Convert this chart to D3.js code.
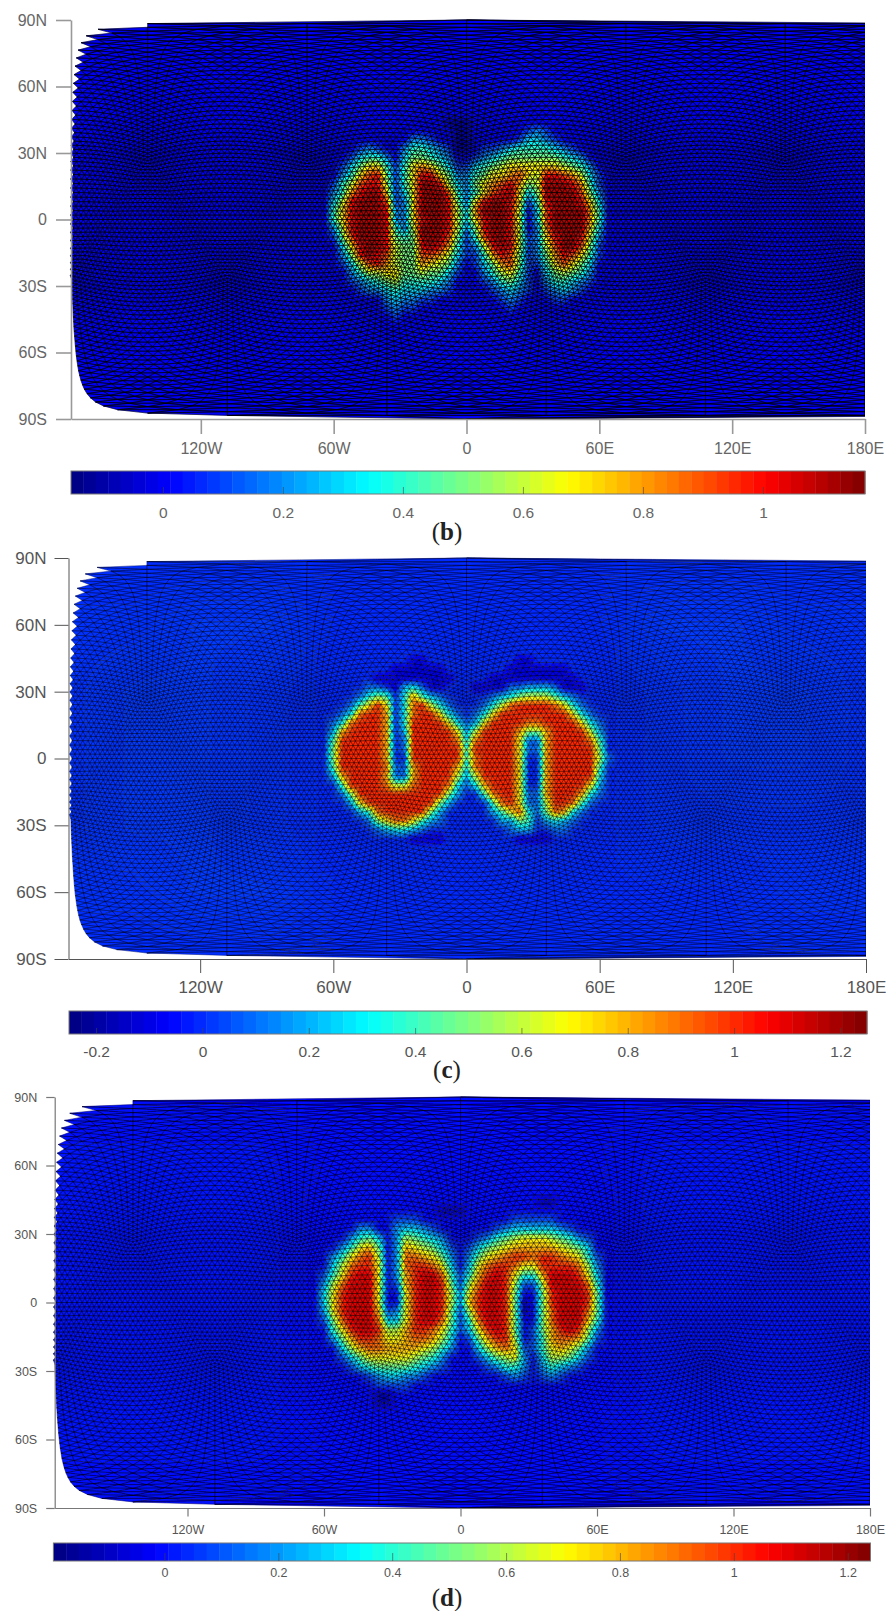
<!DOCTYPE html>
<html>
<head>
<meta charset="utf-8">
<script src="https://cdn.jsdelivr.net/npm/d3@7"></script>
<style>
body { margin: 0; background: #fff; }
text { font-family: "Liberation Sans", Arial, sans-serif; }
</style>
</head>
<body>
<div id="chart"></div>
<script>
var lonTicks = [-120, -60, 0, 60, 120, 180];
var lonLabels = ["120W", "60W", "0", "60E", "120E", "180E"];
var latTicks = [90, 60, 30, 0, -30, -60, -90];
var latLabels = ["90N", "60N", "30N", "0", "30S", "60S", "90S"];
var barTicksB = [0, 0.2, 0.4, 0.6, 0.8, 1];
var barTicksC = [-0.2, 0, 0.2, 0.4, 0.6, 0.8, 1, 1.2];
var barTicksD = [0, 0.2, 0.4, 0.6, 0.8, 1, 1.2];

// values, one char per 4 degrees: lon -68..68, lat 52..-52
// char = hex digit, value = (digit - 1) / 10
var rowsB = [
"11111111111111111111111111111111111",
"11111111111111111111111111111111111",
"11111111111111100011111111111111111",
"11111111111111110011111123211111111",
"11111111111332110011111244321111111",
"11111232113554320012234555543211111",
"11112455314665431123456666665431111",
"11124688525898642245678888887653111",
"111358ab6258bb863356889a87bba974211",
"11257abb7258ccb743689ab967cccb95211",
"11359bcc8248ccca5358abc846cccca6311",
"1147bccca238cccb638bccb825bcccb8411",
"1158bcccb338cccb749cccb714acccc9511",
"1158bcccb338bccb748bccb714acccc9511",
"1137bcccb537cccb736bccb7139cccc8411",
"1126acccb656ccca625accb7238bccb7311",
"11148bccb766bcb95237bcb7237acca6211",
"11136bcba766aa9742259ba62369ba85211",
"111247ab97669876312469a62258a864111",
"11113577886676642113578521467653111",
"11112345675555431112356421355432111",
"11111233454443321111234321234321111",
"11111111343322111111123211122111111",
"11111111232211111111112111111111111",
"11111111121111111111111111111111111",
"11111111111111111111111111111111111",
"11111111111111111111111111111111111"
];
var rowsC = [
"11111111111111111111111111111111111",
"11111111111111111111111111111111111",
"11111111111001111111111001111111111",
"11111111100000011111110000000111111",
"11111110000000001111000000000011111",
"11111122103420011100002233320001111",
"11111246514953211111234677753211111",
"1111258b814ab742111247abbbba8421111",
"11124abb914abb8421248bbbbbbbb842111",
"1124abbb914bbbb84238bbbbaabbbb84211",
"1139bbbb913bbbbb837bbbb9669bbbb7311",
"115bbbbb912bbbbba4abbbb8229bbbba511",
"116bbbbb912bbbbbb5bbbbb8229bbbbb611",
"116bbbbb911bbbbbb5abbbb8119bbbbb721",
"115bbbbba229bbbb94abbbb8119bbbbb511",
"1139bbbb9229bbbb737bbbb8119bbbbb411",
"1115bbbba77abbba4249bbb8119bbbb8311",
"11126bbbbbbbbbb63115abb8229bbb94211",
"111138bbbbbbbb6311115ab8227bba52111",
"1111135abbbbb631111135 8a426a9421111".replace(" ", ""),
"11111126 8aa853211111133651343211111".replace(" ", ""),
"11111112344321111111112331122111111",
"11111111111000011111111000011111111",
"11111111111111111111111111111111111",
"11111111111111111111111111111111111",
"11111111111111111111111111111111111",
"11111111111111111111111111111111111"
];
var rowsD = [
"11111111111111111111111111111111111",
"11111111111111111111111111111111111",
"11111111111111111111111111001111111",
"11111111111111100011111111111111111",
"11111111112221111111111222221111111",
"11111133113443211111123444443211111",
"11111356413765431112356788876532111",
"11113589613987642124678999998764111",
"111358ab713aa986313689abbabba985211",
"11147abb813abba84148abba88bbbba7311",
"11258bcc8139bcca5259bcb8559cccb8411",
"1137accc8129bccb627accb7227cccca511",
"1148bccc8118bccb738bccb6116bcccb611",
"1148bccc8118bccb739bccb6016bcccb611",
"1138bccc9238bccb627bccb6016accca611",
"1126accca448bcca625accb6116accc9511",
"11158bccb779bba85248bcb61269bcb7311",
"111369bba889aa9741269bb71259aa96211",
"1111479aa9999875311479a822589863111",
"11112468888876531112467831477642111",
"11111245666654321111235531354321111",
"11111112344332111111112321232111111",
"11111111222211111111111111111111111",
"11111111001111111111111111111111111",
"11111111001111111111111111111111111",
"11111111111111111111111111111111111",
"11111111111111111111111111111111111"
];
// rest of the map, every 30 degrees: lon -180..180, lat 90..-90
var backB = [
[0, 0, 0, 0, 0, 0, 0, 0, 0, 0, 0, 0, 0],
[0, 0, 0, 0, 0, 0, 0, 0, 0, 0, 0, 0, 0],
[0, 0, 0, 0, 0, 0, 0, 0, 0, 0, 0, 0, 0],
[0, 0, 0, 0, 0, 0, 0, 0, 0, 0, 0, 0, 0],
[0, 0, 0, 0, 0, 0, 0, 0, 0, 0, 0, 0, 0],
[0, 0, 0, 0, 0, 0, 0, 0, 0, 0, 0, 0, 0],
[0, 0, 0, 0, 0, 0, 0, 0, 0, 0, 0, 0, 0]
];
var backC = [
[0, 0, 0, 0, 0, 0, 0, 0, 0, 0, 0, 0, 0],
[0.01, 0.01, 0.02, 0.02, 0, 0, 0, 0, 0, 0.02, 0.02, 0.01, 0.01],
[0.01, 0.02, 0.02, 0.01, 0, 0, 0, 0, 0, 0.01, 0.02, 0.02, 0.01],
[0.01, 0.02, 0.02, 0.01, 0, 0, 0, 0, 0, 0.01, 0.02, 0.02, 0.01],
[0.01, 0.02, 0.02, 0.01, 0, 0, 0, 0, 0, 0.01, 0.01, 0.01, 0.01],
[0.01, 0.01, 0.02, 0.02, 0, 0, 0, 0, 0, 0, 0, 0.01, 0.01],
[0, 0, 0, 0, 0, 0, 0, 0, 0, 0, 0, 0, 0]
];
var backD = [
[0, 0, 0, 0, 0, 0, 0, 0, 0, 0, 0, 0, 0],
[0.01, 0.01, 0.01, 0.01, 0, 0, 0, 0, 0, 0.01, 0.01, 0.01, 0.01],
[0.01, 0.01, 0.01, 0.01, 0, 0, 0, 0, 0, 0.01, 0.01, 0.01, 0.01],
[0.01, 0.01, 0.01, 0.01, 0, 0, 0, 0, 0, 0.01, 0.01, 0.01, 0.01],
[0.01, 0.01, 0.01, 0.01, 0, 0, 0, 0, 0, 0.01, 0.01, 0.01, 0.01],
[0.01, 0.01, 0.01, 0.01, 0, 0, 0, 0, 0, 0.01, 0.01, 0.01, 0.01],
[0, 0, 0, 0, 0, 0, 0, 0, 0, 0, 0, 0, 0]
];

var meshFreq = 32;

// layout of the three panels
var panels = [
	{ name: "b", rows: rowsB, back: backB, barTicks: barTicksB, cMin: -0.153, cMax: 1.17,
		axisLeft: 71, x0: 68, x1: 865, top: 20, bottom: 419, tick: 15, pad: 9, size: 16,
		barLeft: 71, barRight: 865, barTop: 471, barBottom: 494, barTick: 7, barPad: 13, barSize: 15.5,
		axisColor: "#999", axisWidth: 1.6, textColor: "#666", meshWidth: 0.62, meshOpacity: 0.9, blur: 0.5, labelY: 540 },
	{ name: "c", rows: rowsC, back: backC, barTicks: barTicksC, cMin: -0.251, cMax: 1.25,
		axisLeft: 68.5, x0: 67, x1: 866, top: 558, bottom: 959, tick: 14, pad: 8, size: 17,
		barLeft: 69, barRight: 867, barTop: 1011, barBottom: 1034, barTick: 6, barPad: 12, barSize: 15.5,
		axisColor: "#555", axisWidth: 1, textColor: "#555", meshWidth: 0.45, meshOpacity: 0.62, blur: 0.4, labelY: 1078 },
	{ name: "d", rows: rowsD, back: backD, barTicks: barTicksD, cMin: -0.195, cMax: 1.24,
		axisLeft: 54.7, x0: 51, x1: 870, top: 1097, bottom: 1508, tick: 8.5, pad: 9, size: 12.5,
		barLeft: 53.4, barRight: 870.5, barTop: 1543, barBottom: 1561, barTick: 8, barPad: 7, barSize: 12.5,
		axisColor: "#777", axisWidth: 1.2, textColor: "#555", meshWidth: 0.45, meshOpacity: 0.7, blur: 0.3, labelY: 1606 }
];

function jet(t) {
	var c = function(v) { return Math.round(255 * Math.max(0, Math.min(1, v))); };
	return d3.rgb(c(1.5 - Math.abs(4 * t - 3)), c(1.5 - Math.abs(4 * t - 2)), c(1.5 - Math.abs(4 * t - 1))).formatHex();
}
var jetColors = d3.range(64).map(function(i) { return jet((i + 0.5) / 64); });
var jetFine = d3.range(256).map(function(i) { return jet((i + 0.5) / 256); });

function gridValue(rows, lon, lat) {
	var cf = (lon + 68) / 4, rf = (52 - lat) / 4,
		c = Math.min(33, Math.floor(cf)), r = Math.min(25, Math.floor(rf)),
		tc = cf - c, tr = rf - r;
	var at = function(ri, ci) { return (parseInt(rows[ri].charAt(ci), 16) - 1) / 10 || 0; };
	return (at(r, c) * (1 - tc) + at(r, c + 1) * tc) * (1 - tr) + (at(r + 1, c) * (1 - tc) + at(r + 1, c + 1) * tc) * tr;
}
function backValue(back, lon, lat) {
	var cf = (lon + 180) / 30, rf = (90 - lat) / 30,
		c = Math.min(11, Math.floor(cf)), r = Math.min(5, Math.floor(rf)),
		tc = cf - c, tr = rf - r;
	return (back[r][c] * (1 - tc) + back[r][c + 1] * tc) * (1 - tr) + (back[r + 1][c] * (1 - tc) + back[r + 1][c + 1] * tc) * tr;
}
function valueAt(p, lon, lat) {
	if (lon > 180) lon -= 360;
	if (Math.abs(lon) <= 68 && Math.abs(lat) <= 52) return gridValue(p.rows, lon, lat);
	return backValue(p.back, lon, lat);
}

// icosahedral mesh in lon/lat, the faces are split meshFreq times
function buildMesh(n) {
	var rad = Math.PI / 180, a = Math.atan(0.5) / rad;
	var vec = function(lon, lat) {
		return [Math.cos(lat * rad) * Math.cos(lon * rad), Math.cos(lat * rad) * Math.sin(lon * rad), Math.sin(lat * rad)];
	};
	var N = vec(0, 90), S = vec(0, -90), faces = [], i;
	var U = d3.range(5).map(function(k) { return vec(-144 + 72 * k, a); });
	var L = d3.range(5).map(function(k) { return vec(-108 + 72 * k, -a); });
	for (i = 0; i < 5; i++) {
		var i1 = (i + 1) % 5;
		faces.push([N, U[i], U[i1]], [U[i], L[i], U[i1]], [L[i], L[i1], U[i1]], [S, L[i], L[i1]]);
	}
	var tris = [];
	var toLonLat = function(A, B, C, w1, w2) {
		var w0 = n - w1 - w2,
			x = A[0] * w0 + B[0] * w1 + C[0] * w2,
			y = A[1] * w0 + B[1] * w1 + C[1] * w2,
			z = A[2] * w0 + B[2] * w1 + C[2] * w2,
			r = Math.sqrt(x * x + y * y + z * z),
			lat = Math.asin(z / r) / rad,
			lon = Math.abs(lat) > 89.999 ? 0 : Math.atan2(y, x) / rad;
		if (lon < -179.99) lon = 180;
		return [lon, lat];
	};
	var unwrap = function(t) {
		var lons = t.map(function(v) { return v[0]; });
		if (d3.max(lons) - d3.min(lons) > 180) {
			return t.map(function(v) { return [v[0] < 0 ? v[0] + 360 : v[0], v[1]]; });
		}
		return t;
	};
	faces.forEach(function(f) {
		for (var p = 0; p < n; p++) {
			for (var q = 0; q < n - p; q++) {
				tris.push(unwrap([toLonLat(f[0], f[1], f[2], p, q), toLonLat(f[0], f[1], f[2], p + 1, q), toLonLat(f[0], f[1], f[2], p, q + 1)]));
				if (q < n - p - 1) {
					tris.push(unwrap([toLonLat(f[0], f[1], f[2], p + 1, q), toLonLat(f[0], f[1], f[2], p + 1, q + 1), toLonLat(f[0], f[1], f[2], p, q + 1)]));
				}
			}
		}
	});
	return tris;
}
var mesh = buildMesh(meshFreq);

var svg = d3.select("#chart").append("svg")
	.attr("width", 889)
	.attr("height", 1611)
	.style("display", "block");

panels.forEach(function(p) {
	var x = d3.scaleLinear().domain([-180, 180]).range([p.x0, p.x1]),
		y = d3.scaleLinear().domain([90, -90]).range([p.top, p.bottom]),
		color = d3.scaleQuantize().domain([p.cMin, p.cMax]).range(jetFine),
		barX = d3.scaleLinear().domain([p.cMin, p.cMax]).range([p.barLeft, p.barRight]);

	var g = svg.append("g").attr("class", "panel-" + p.name);

	g.append("clipPath").attr("id", "clip-" + p.name)
		.append("rect")
		.attr("x", p.x0 - 2)
		.attr("y", p.top - 2)
		.attr("width", p.x1 - p.x0 + 2)
		.attr("height", p.bottom - p.top + 4);
	g.append("filter").attr("id", "soft-" + p.name)
		.attr("x", "-2%").attr("y", "-2%").attr("width", "104%").attr("height", "104%")
		.append("feGaussianBlur").attr("stdDeviation", p.blur);

	// triangles are grouped by colour, one path per colour
	var buckets = {}, edges = [];
	mesh.forEach(function(t) {
		var v = valueAt(p, (t[0][0] + t[1][0] + t[2][0]) / 3, (t[0][1] + t[1][1] + t[2][1]) / 3),
			k = color(v),
			d = "M" + x(t[0][0]).toFixed(1) + "," + y(t[0][1]).toFixed(1) + "L" + x(t[1][0]).toFixed(1) + "," + y(t[1][1]).toFixed(1) + "L" + x(t[2][0]).toFixed(1) + "," + y(t[2][1]).toFixed(1) + "Z";
		(buckets[k] = buckets[k] || []).push(d);
		edges.push(d);
	});

	var plot = g.append("g")
		.attr("clip-path", "url(#clip-" + p.name + ")")
		.append("g")
		.attr("filter", "url(#soft-" + p.name + ")");
	plot.selectAll(".cell")
		.data(Object.keys(buckets))
		.enter()
		.append("path")
		.attr("class", "cell")
		.attr("d", function(k) { return buckets[k].join(""); })
		.attr("fill", function(k) { return k; })
		.attr("stroke", function(k) { return k; })
		.attr("stroke-width", 0.3);
	plot.append("path")
		.attr("d", edges.join(""))
		.attr("fill", "none")
		.attr("stroke", "#000")
		.attr("stroke-width", p.meshWidth)
		.attr("stroke-opacity", p.meshOpacity);

	// axes
	var xAxisScale = d3.scaleLinear().domain([x.invert(p.axisLeft), 180]).range([p.axisLeft, p.x1]);
	var xAxis = d3.axisBottom(xAxisScale)
		.tickValues(lonTicks)
		.tickFormat(function(d, i) { return lonLabels[i]; })
		.tickSize(p.tick)
		.tickSizeOuter(0)
		.tickPadding(p.pad);
	var yAxis = d3.axisLeft(y)
		.tickValues(latTicks)
		.tickFormat(function(d, i) { return latLabels[i]; })
		.tickSize(p.tick)
		.tickSizeOuter(0)
		.tickPadding(p.pad);
	var barAxis = d3.axisBottom(barX)
		.tickValues(p.barTicks)
		.tickFormat(function(d) { return d3.format("")(+d.toFixed(1)).replace("\u2212", "-"); })
		.tickSize(-p.barTick)
		.tickSizeOuter(0)
		.tickPadding(p.barPad);

	var styleAxis = function(a, size, lineColor) {
		a.attr("font-family", null).attr("font-size", size);
		a.selectAll("path, line").attr("stroke", lineColor).attr("stroke-width", p.axisWidth);
		a.selectAll("text").attr("fill", p.textColor);
	};
	styleAxis(g.append("g").attr("transform", "translate(0," + p.bottom + ")").call(xAxis), p.size, p.axisColor);
	styleAxis(g.append("g").attr("transform", "translate(" + p.axisLeft + ",0)").call(yAxis), p.size, p.axisColor);

	// colour bar
	var barStep = (p.cMax - p.cMin) / jetColors.length;
	g.selectAll(".bar")
		.data(jetColors)
		.enter()
		.append("rect")
		.attr("class", "bar")
		.attr("x", function(d, i) { return barX(p.cMin + i * barStep); })
		.attr("y", p.barTop)
		.attr("width", barX(p.cMin + barStep) - barX(p.cMin) + 0.4)
		.attr("height", p.barBottom - p.barTop)
		.attr("fill", function(d) { return d; });
	g.append("rect")
		.attr("x", p.barLeft)
		.attr("y", p.barTop)
		.attr("width", p.barRight - p.barLeft)
		.attr("height", p.barBottom - p.barTop)
		.attr("fill", "none")
		.attr("stroke", "#777")
		.attr("stroke-width", 1);
	var ba = g.append("g").attr("transform", "translate(0," + p.barBottom + ")").call(barAxis);
	styleAxis(ba, p.barSize, "#444");
	ba.select(".domain").remove();
	ba.selectAll("line").attr("stroke-width", 1).attr("stroke-opacity", 0.6);

	// panel letter
	var label = g.append("text")
		.attr("x", 447)
		.attr("y", p.labelY)
		.attr("text-anchor", "middle")
		.attr("font-size", 25)
		.attr("fill", "#222")
		.style("font-family", "'Liberation Serif', serif");
	label.append("tspan").text("(");
	label.append("tspan").attr("font-weight", "bold").text(p.name);
	label.append("tspan").text(")");
});
</script>
</body>
</html>
